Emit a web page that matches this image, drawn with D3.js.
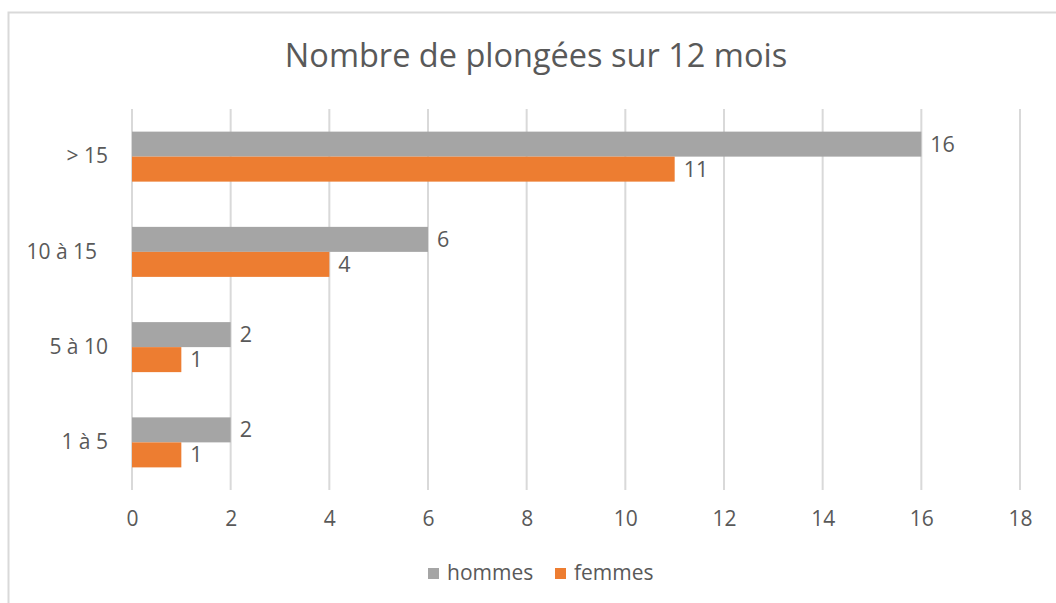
<!doctype html>
<html>
  <head>
    <meta charset="utf-8">
    <script src="https://cdnjs.cloudflare.com/ajax/libs/d3/7.8.5/d3.min.js"></script>
    <style>
      body { margin: 0; background: #fff; }
      svg text { font-family: "Open Sans", sans-serif; fill: #595959; }
      .cat text { white-space: pre; }
    </style>
  </head>
  <body>
    <svg id="chart" width="1056" height="603"></svg>
    <script>
      var categories = ["> 15", "10 à 15  ", "5 à 10", "1 à 5"];
      var hommes = [16, 6, 2, 2];
      var femmes = [11, 4, 1, 1];
      var xTicks = [0, 2, 4, 6, 8, 10, 12, 14, 16, 18];
      var seriesNames = ["hommes", "femmes"];
      var colors = ["#A5A5A5", "#ED7D31"];

      var svg = d3.select("#chart");

      // chart frame
      svg.append("rect").attr("x", 8.5).attr("y", 12.5).attr("width", 1060).attr("height", 600)
        .attr("fill", "none").attr("stroke", "#D9D9D9").attr("stroke-width", 2);

      svg.append("text").attr("x", 536).attr("y", 67).attr("text-anchor", "middle")
        .style("font-size", "32.5px").text("Nombre de plongées sur 12 mois");

      var x = d3.scaleLinear().domain([0, 18]).range([132, 1020]);
      var y = d3.scaleBand().domain(categories).range([109, 490]).paddingInner(0.475).paddingOuter(0.2375);
      var ySub = d3.scaleBand().domain(seriesNames).range([0, y.bandwidth()]);

      // gridlines
      svg.append("g").selectAll("line").data(xTicks).enter().append("line")
        .attr("x1", d => x(d)).attr("x2", d => x(d))
        .attr("y1", 109).attr("y2", 490)
        .attr("stroke", "#D9D9D9").attr("stroke-width", 2);

      // x axis labels
      var xAxis = d3.axisBottom(x).tickValues(xTicks).tickSize(0).tickPadding(0);
      var xg = svg.append("g").attr("transform", "translate(0,519)").call(xAxis);
      xg.select(".domain").remove();
      xg.selectAll("text").style("font-size", "21px").attr("dy", "0.35em").attr("fill", "#595959");

      // category labels
      var yAxis = d3.axisLeft(y).tickSize(0).tickPadding(24);
      var yg = svg.append("g").attr("class", "cat").attr("transform", "translate(132,0)").call(yAxis);
      yg.select(".domain").remove();
      yg.selectAll("text").style("font-size", "21px").attr("fill", "#595959");

      var rows = categories.map((c, i) => ({cat: c, vals: [hommes[i], femmes[i]]}));

      var groups = svg.append("g").selectAll("g").data(rows).enter().append("g")
        .attr("transform", d => "translate(0," + y(d.cat) + ")");

      var cells = groups.selectAll("g").data(d => d.vals.map((v, k) => ({v: v, s: seriesNames[k], k: k})))
        .enter().append("g");

      cells.append("rect")
        .attr("x", x(0))
        .attr("y", d => ySub(d.s))
        .attr("width", d => x(d.v) - x(0))
        .attr("height", ySub.bandwidth())
        .attr("fill", d => colors[d.k]);

      cells.append("text")
        .attr("x", d => x(d.v) + 9)
        .attr("y", d => ySub(d.s) + ySub.bandwidth() / 2)
        .attr("dy", "0.35em")
        .style("font-size", "21.5px")
        .text(d => d.v);

      // legend
      var legend = svg.append("g").attr("transform", "translate(428,573)");
      var items = legend.selectAll("g").data(seriesNames).enter().append("g")
        .attr("transform", (d, i) => "translate(" + (i * 127) + ",0)");
      items.append("rect").attr("x", 0).attr("y", -5).attr("width", 11).attr("height", 11)
        .attr("fill", (d, i) => colors[i]);
      items.append("text").attr("x", 19).attr("y", 0).attr("dy", "0.35em")
        .style("font-size", "21px").text(d => d);
    </script>
  </body>
</html>
